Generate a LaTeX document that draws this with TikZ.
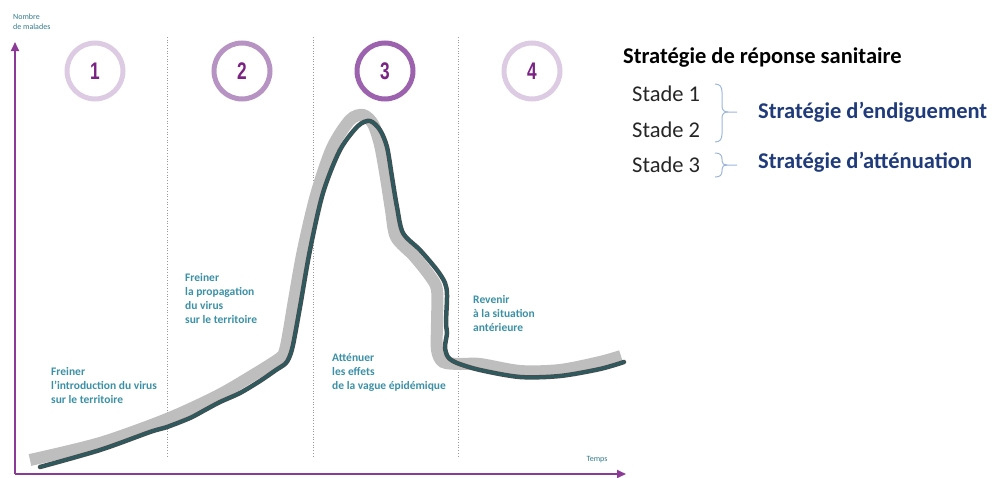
\documentclass[tikz,border=0pt]{standalone}
\usepackage{fontspec}
\setmainfont{Carlito}
\newfontfamily\numfont{Liberation Sans}
\usetikzlibrary{arrows.meta}
\definecolor{axispurple}{HTML}{8B3A95}
\definecolor{ringlight}{HTML}{DDCBE3}
\definecolor{ringmid}{HTML}{B793C3}
\definecolor{ringdark}{HTML}{9C62AE}
\definecolor{numpurple}{HTML}{7A2383}
\definecolor{tealtext}{HTML}{3B90A6}
\definecolor{curveteal}{HTML}{2C5A5E}
\definecolor{ribbongray}{HTML}{BEBEBE}
\definecolor{bracecol}{HTML}{9DB5DC}
\definecolor{bluetext}{HTML}{1F3B7A}
\definecolor{divgray}{HTML}{9A9A9A}
\tikzset{
  ring/.style={circle, minimum size=56pt, inner sep=0pt, line width=5pt},
  numlabel/.style={text=numpurple, font=\numfont\bfseries\fontsize{24}{24}\selectfont},
  phasetext/.style={anchor=north west, align=left, inner sep=0pt, text=tealtext, font=\bfseries\fontsize{11.5}{14}\selectfont},
  axislabel/.style={inner sep=0pt, text=tealtext!85!black, font=\fontsize{8}{10}\selectfont, align=left},
  divider/.style={divgray, dotted, line width=0.7pt},
  axisline/.style={axispurple, line width=1.8pt, -{Triangle[length=9pt,width=8pt]}},
  stadetext/.style={anchor=west, inner sep=0pt, text=black!85, font=\fontsize{22.5}{26}\selectfont},
  stratext/.style={anchor=west, inner sep=0pt, text=bluetext, font=\bfseries\fontsize{22.5}{26}\selectfont},
  bracepath/.style={bracecol, line width=1pt}
}
\begin{document}
\begin{tikzpicture}[x=1pt,y=-1pt]
\useasboundingbox (0,0) rectangle (994,477);
% dividers
\foreach \xx in {167,313,458} \draw[divider] (\xx,37) -- (\xx,458);
% axes
\coordinate (O) at (15,474);
\coordinate (ytip) at (15,42);
\coordinate (xtip) at (626,474);
\draw[axisline] (O) -- (ytip);
\draw[axisline] (O) -- (xtip);
\node[axislabel, anchor=north west] (ylab) at (13,14) {Nombre\\de malades};
\node[axislabel, anchor=center] (xlab) at (597,460) {Temps};
% rings
\node[ring, draw=ringlight] (c1) at (95,71) {};
\node[numlabel] at (c1) {\scalebox{0.72}[1]{1}};
\node[ring, draw=ringmid] (c2) at (242,71) {};
\node[numlabel] at (c2) {\scalebox{0.72}[1]{2}};
\node[ring, draw=ringdark] (c3) at (385,71) {};
\node[numlabel] at (c3) {\scalebox{0.72}[1]{3}};
\node[ring, draw=ringlight] (c4) at (532,71) {};
\node[numlabel] at (c4) {\scalebox{0.72}[1]{4}};
% ribbon
\draw[ribbongray, line width=12pt] plot[smooth, tension=0.5] coordinates {
(30,460) (100,443) (167,419) (217,396) (250,377) (280,358) (285,350) (289,330) (294,300) (303,250) (316,195) (332,148) (350,120) (363,115) (373,124) (380,145) (386,178) (391,210) (396,237) (414,256) (430,276) (437,290) (437,323) (437,350) (443,362) (460,364) (480,364) (520,371) (560,370) (600,362) (621,356)};
\def\tealpts{(40,467) (100,450) (150,432) (167,427) (190,418) (205,410) (220,402) (240,393) (260,381) (276,370) (285,364) (289,358) (293,345) (300,307) (310,250) (323,193) (340,150) (358,126) (370,121) (380,130) (387,147) (392,177) (397,207) (403,233) (420,250) (437,270) (445,283) (447,295) (446,323) (447,333) (445,347) (448,357) (457,363) (480,370) (520,377) (560,376) (600,369) (624,362)}
\draw[black!70, line width=4.5pt, line cap=round] plot[smooth, tension=0.5] coordinates {\tealpts};
\draw[curveteal, line width=3pt, line cap=round] plot[smooth, tension=0.5] coordinates {\tealpts};
% phase texts
\node[phasetext] (t1) at (51,367) {Freiner\\l'introduction du virus\\sur le territoire};
\node[phasetext] (t2) at (185,273) {Freiner\\la propagation\\du virus\\sur le territoire};
\node[phasetext] (t3) at (332,353) {Atténuer\\les effets\\de la vague épidémique};
\node[phasetext] (t4) at (473,295) {Revenir\\à la situation\\antérieure};
% right legend
\node[anchor=west, inner sep=0pt, font=\bfseries\fontsize{22.5}{26}\selectfont] (title) at (623,58) {Stratégie de réponse sanitaire};
\node[stadetext] (s1) at (632,94) {Stade 1};
\node[stadetext] (s2) at (632,130) {Stade 2};
\node[stadetext] (s3) at (632,165) {Stade 3};
\draw[bracepath] (715,84) .. controls (720,84) and (722,87) .. (722,92) -- (722,106) .. controls (722,110) and (724,112) .. (728,112) -- (737,112);
\draw[bracepath] (715,142) .. controls (720,142) and (722,139) .. (722,134) -- (722,118) .. controls (722,114) and (724,112) .. (728,112);
\draw[bracepath] (715,153) .. controls (720,153) and (722,155) .. (722,159) -- (722,161) .. controls (722,164) and (724,165) .. (727,165) -- (737,165);
\draw[bracepath] (715,177) .. controls (720,177) and (722,175) .. (722,171) -- (722,169) .. controls (722,166) and (724,165) .. (727,165);
\node[stratext] (e1) at (758,112) {Stratégie d’endiguement};
\node[stratext] (e2) at (758,162) {Stratégie d’atténuation};
\end{tikzpicture}
\end{document}
